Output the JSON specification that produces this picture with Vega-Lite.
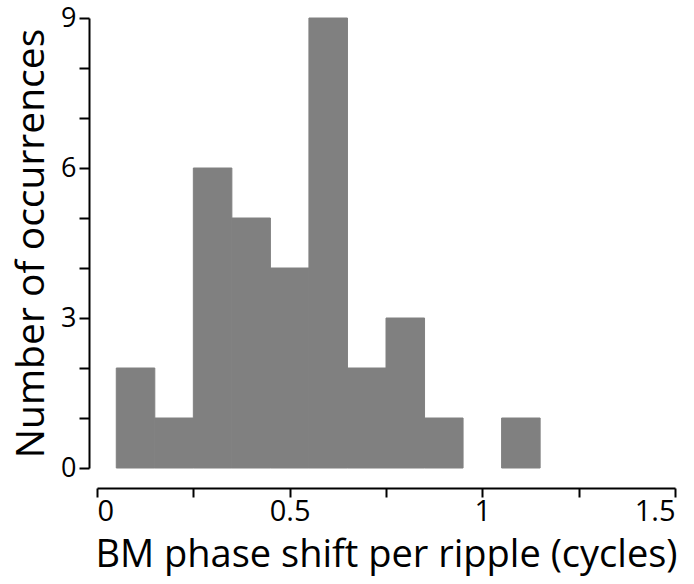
{
  "$schema": "https://vega.github.io/schema/vega-lite/v6.json",
  "width": 578,
  "height": 450,
  "autosize": {"type": "none"},
  "padding": {"left": 97, "top": 18, "right": 19, "bottom": 116},
  "background": "white",
  "config": {
    "view": {"stroke": null},
    "font": "Open Sans"
  },
  "data": {
    "values": [
      {"start": 0.05, "end": 0.15, "count": 2},
      {"start": 0.15, "end": 0.25, "count": 1},
      {"start": 0.25, "end": 0.35, "count": 6},
      {"start": 0.35, "end": 0.45, "count": 5},
      {"start": 0.45, "end": 0.55, "count": 4},
      {"start": 0.55, "end": 0.65, "count": 9},
      {"start": 0.65, "end": 0.75, "count": 2},
      {"start": 0.75, "end": 0.85, "count": 3},
      {"start": 0.85, "end": 0.95, "count": 1},
      {"start": 1.05, "end": 1.15, "count": 1}
    ]
  },
  "mark": {"type": "bar", "color": "#808080", "stroke": "#808080", "strokeWidth": 1},
  "encoding": {
    "x": {
      "field": "start",
      "type": "quantitative",
      "scale": {"domain": [0, 1.5], "nice": false, "zero": false},
      "axis": {
        "title": "BM phase shift per ripple (cycles)",
        "values": [0, 0.25, 0.5, 0.75, 1, 1.25, 1.5],
        "format": ".2~f",
        "labelExpr": "(datum.value * 2) % 1 == 0 ? datum.label : ''",
        "labelOverlap": false,
        "grid": false,
        "offset": 20,
        "domainColor": "black",
        "domainWidth": 2,
        "tickColor": "black",
        "tickWidth": 2,
        "tickSize": 9,
        "labelFont": "Open Sans",
        "labelFontSize": 29,
        "labelColor": "black",
        "labelPadding": 0,
        "titleFont": "Open Sans",
        "titleFontSize": 38,
        "titleFontWeight": "normal",
        "titleColor": "black",
        "titlePadding": 10
      }
    },
    "x2": {"field": "end"},
    "y": {
      "field": "count",
      "type": "quantitative",
      "scale": {"domain": [0, 9], "nice": false},
      "axis": {
        "title": "Number of occurrences",
        "values": [0, 1, 2, 3, 4, 5, 6, 7, 8, 9],
        "labelExpr": "datum.value % 3 == 0 ? datum.label : ''",
        "labelOverlap": false,
        "grid": false,
        "offset": 8,
        "domainColor": "black",
        "domainWidth": 2,
        "tickColor": "black",
        "tickWidth": 2,
        "tickSize": 10,
        "labelFont": "Open Sans",
        "labelFontSize": 27,
        "labelColor": "black",
        "labelPadding": 3,
        "titleFont": "Open Sans",
        "titleFontSize": 39,
        "titleFontWeight": "normal",
        "titleColor": "black",
        "titlePadding": 9
      }
    },
    "y2": {"datum": 0}
  }
}
